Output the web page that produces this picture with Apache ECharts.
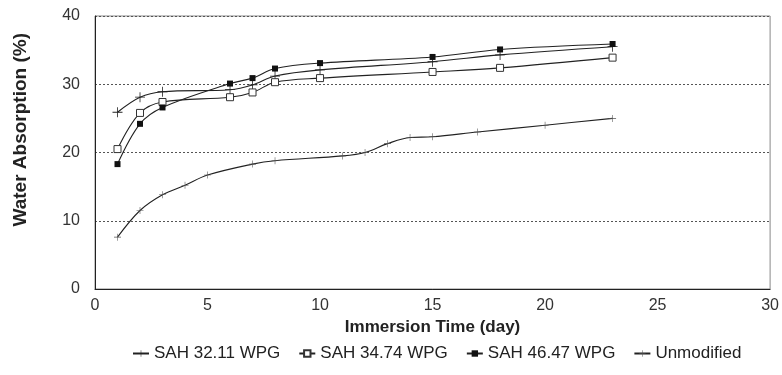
<!DOCTYPE html>
<html>
<head>
<meta charset="utf-8">
<script src="https://cdn.jsdelivr.net/npm/echarts@6/dist/echarts.min.js"></script>
<style>
  html, body { margin: 0; padding: 0; background: #fff; }
  #chart { width: 782px; height: 375px; }
</style>
</head>
<body>
<div id="chart"></div>
<script>
// immersion days and water absorption (%)
const sahDays = [1, 2, 3, 6, 7, 8, 10, 15, 18, 23];
const sah3211 = [25.9, 28.1, 28.9, 29.2, 29.9, 31.2, 32.1, 33.3, 34.3, 35.5];
const sah3474 = [20.5, 25.8, 27.4, 28.1, 28.8, 30.3, 30.9, 31.8, 32.4, 33.9];
const sah4647 = [18.3, 24.2, 26.6, 30.1, 30.9, 32.3, 33.1, 34.0, 35.1, 35.9];
const unmodDays = [1, 2, 3, 4, 5, 7, 8, 11, 12, 13, 14, 15, 17, 20, 23];
const unmodified = [7.6, 11.5, 13.8, 15.2, 16.7, 18.3, 18.8, 19.5, 20.0, 21.3, 22.2, 22.3, 23.0, 24.0, 25.0];
const seriesNames = ["SAH 32.11 WPG", "SAH 34.74 WPG", "SAH 46.47 WPG", "Unmodified"];

const pairs = (xs, ys) => xs.map((x, i) => [x, ys[i]]);
const plus = "path://M4.6,0 H5.4 V4.6 H10 V5.4 H5.4 V10 H4.6 V5.4 H0 V4.6 H4.6 Z";
const font = "'Liberation Sans', Arial, sans-serif";

const lineBase = {
  type: "line",
  smooth: 0.35,
  lineStyle: { color: "#222", width: 1.1 },
};

const chart = echarts.init(document.getElementById("chart"));
chart.setOption({
  animation: false,
  textStyle: { fontFamily: font },
  grid: {
    left: 95, right: 10, top: 16, bottom: 86,
    show: true, borderColor: "#888", borderWidth: 1,
  },
  legend: {
    data: seriesNames,
    left: 127,
    top: 340,
    itemWidth: 16,
    itemHeight: 8,
    itemGap: 18,
    textStyle: { fontSize: 17, color: "#222", fontFamily: font },
  },
  graphic: [{
    type: "text",
    left: 11,
    top: 33,
    rotation: Math.PI / 2,
    style: {
      text: "Water Absorption (%)",
      font: "bold 19px " + font,
      fill: "#222",
    },
  }],
  xAxis: {
    type: "value",
    min: 0, max: 30, interval: 5,
    name: "Immersion Time (day)",
    nameLocation: "middle",
    nameGap: 29,
    nameTextStyle: { fontSize: 17, fontWeight: "bold", color: "#222" },
    axisLine: { lineStyle: { color: "#222" } },
    axisTick: { show: false },
    axisLabel: { fontSize: 16, color: "#333", margin: 9 },
    splitLine: { show: false },
  },
  yAxis: {
    type: "value",
    min: 0, max: 40, interval: 10,
    axisLine: { show: true, lineStyle: { color: "#222" } },
    axisTick: { show: false },
    axisLabel: { fontSize: 16, color: "#333", margin: 15 },
    splitLine: { lineStyle: { color: "#555", type: [2, 2], width: 1 } },
  },
  series: [
    Object.assign({}, lineBase, {
      name: seriesNames[0],
      data: pairs(sahDays, sah3211),
      symbol: plus, symbolSize: 10,
      itemStyle: { color: "#222" },
    }),
    Object.assign({}, lineBase, {
      name: seriesNames[1],
      data: pairs(sahDays, sah3474),
      symbol: "rect", symbolSize: 7,
      itemStyle: { color: "#fff", borderColor: "#333", borderWidth: 1 },
    }),
    Object.assign({}, lineBase, {
      name: seriesNames[2],
      data: pairs(sahDays, sah4647),
      symbol: "rect", symbolSize: 6,
      itemStyle: { color: "#111" },
    }),
    Object.assign({}, lineBase, {
      name: seriesNames[3],
      data: pairs(unmodDays, unmodified),
      symbol: plus, symbolSize: 7,
      itemStyle: { color: "#555" },
    }),
  ],
});
</script>
</body>
</html>
